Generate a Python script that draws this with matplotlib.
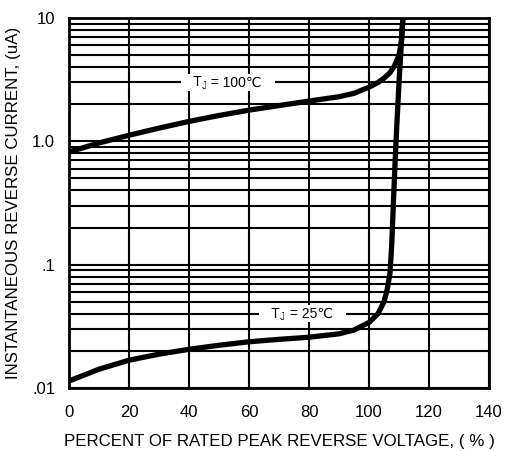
import numpy as np
import matplotlib.pyplot as plt
from matplotlib.ticker import FixedLocator, LogLocator, NullFormatter

x_100 = [0, 10, 20, 30, 40, 50, 60, 70, 80, 90, 95, 100, 103, 105, 107, 108.5, 110, 110.8, 111.3]
y_100 = [0.82, 0.97, 1.12, 1.28, 1.45, 1.62, 1.79, 1.95, 2.12, 2.3, 2.45, 2.75, 3.0, 3.25, 3.6, 4.1, 5.0, 6.5, 10.0]

x_25 = [0, 10, 20, 30, 40, 50, 60, 70, 80, 90, 95, 100, 103, 105, 106, 107, 107.6, 108.3, 109, 110, 111.3]
y_25 = [0.0114, 0.0142, 0.0168, 0.0188, 0.0206, 0.0222, 0.0237, 0.0248, 0.0258, 0.0275, 0.0295, 0.034, 0.04, 0.05, 0.062, 0.085, 0.15, 0.4, 1.0, 3.0, 10.0]

x_ticks = [0, 20, 40, 60, 80, 100, 120, 140]
y_ticks = [0.01, 0.1, 1.0, 10]
y_tick_labels = ['.01', '.1', '1.0', '10']

plt.rcParams['font.family'] = ['Liberation Sans', 'DejaVu Sans']

fig = plt.figure(figsize=(5.2, 4.51), dpi=100)
ax = fig.add_axes([0.1327, 0.1397, 0.8077, 0.8204])

ax.set_yscale('log')
ax.set_xlim(0, 140)
ax.set_ylim(0.01, 10)

ax.xaxis.set_major_locator(FixedLocator(x_ticks))
ax.yaxis.set_major_locator(FixedLocator(y_ticks))
ax.set_yticklabels(y_tick_labels)
ax.yaxis.set_minor_locator(LogLocator(base=10, subs=np.arange(2, 10)))
ax.yaxis.set_minor_formatter(NullFormatter())

ax.grid(True, which='both', axis='y', color='black', lw=1.5)
ax.grid(True, which='major', axis='x', color='black', lw=1.5)
ax.set_axisbelow(True)

ax.tick_params(which='both', length=0)
ax.tick_params(axis='x', pad=12, labelsize=12)
ax.tick_params(axis='y', pad=10, labelsize=12)
for s in ax.spines.values():
    s.set_linewidth(2)

ax.plot(x_100, y_100, color='black', lw=3.8, solid_capstyle='butt', solid_joinstyle='round', zorder=3)
ax.plot(x_25, y_25, color='black', lw=3.8, solid_capstyle='butt', solid_joinstyle='round', zorder=3)


def tj_label(x, y, rest):
    # "T" + subscript "J" + rest, on a white patch that breaks the grid line
    box = dict(facecolor='white', edgecolor='none', pad=1)
    t = ax.text(x, y, '   T', ha='left', va='center', fontsize=10, bbox=box, zorder=4)
    j = ax.annotate('J', xy=(1, 0), xycoords=t, xytext=(0, -1), textcoords='offset points',
                    ha='left', va='bottom', fontsize=7.5, bbox=box, zorder=4)
    ax.annotate(rest + '   ', xy=(1, 0), xycoords=(j, t), ha='left', va='bottom',
                fontsize=10, bbox=box, zorder=4)


tj_label(37.7, 3.0, ' = 100℃')
tj_label(63.8, 0.04, ' = 25℃')

ax.set_xlabel('PERCENT OF RATED PEAK REVERSE VOLTAGE, ( % )', fontsize=12.2, labelpad=10)
ax.set_ylabel('INSTANTANEOUS REVERSE CURRENT, (uA)', fontsize=12.2, labelpad=8)

fig.savefig('out.png', dpi=100)
